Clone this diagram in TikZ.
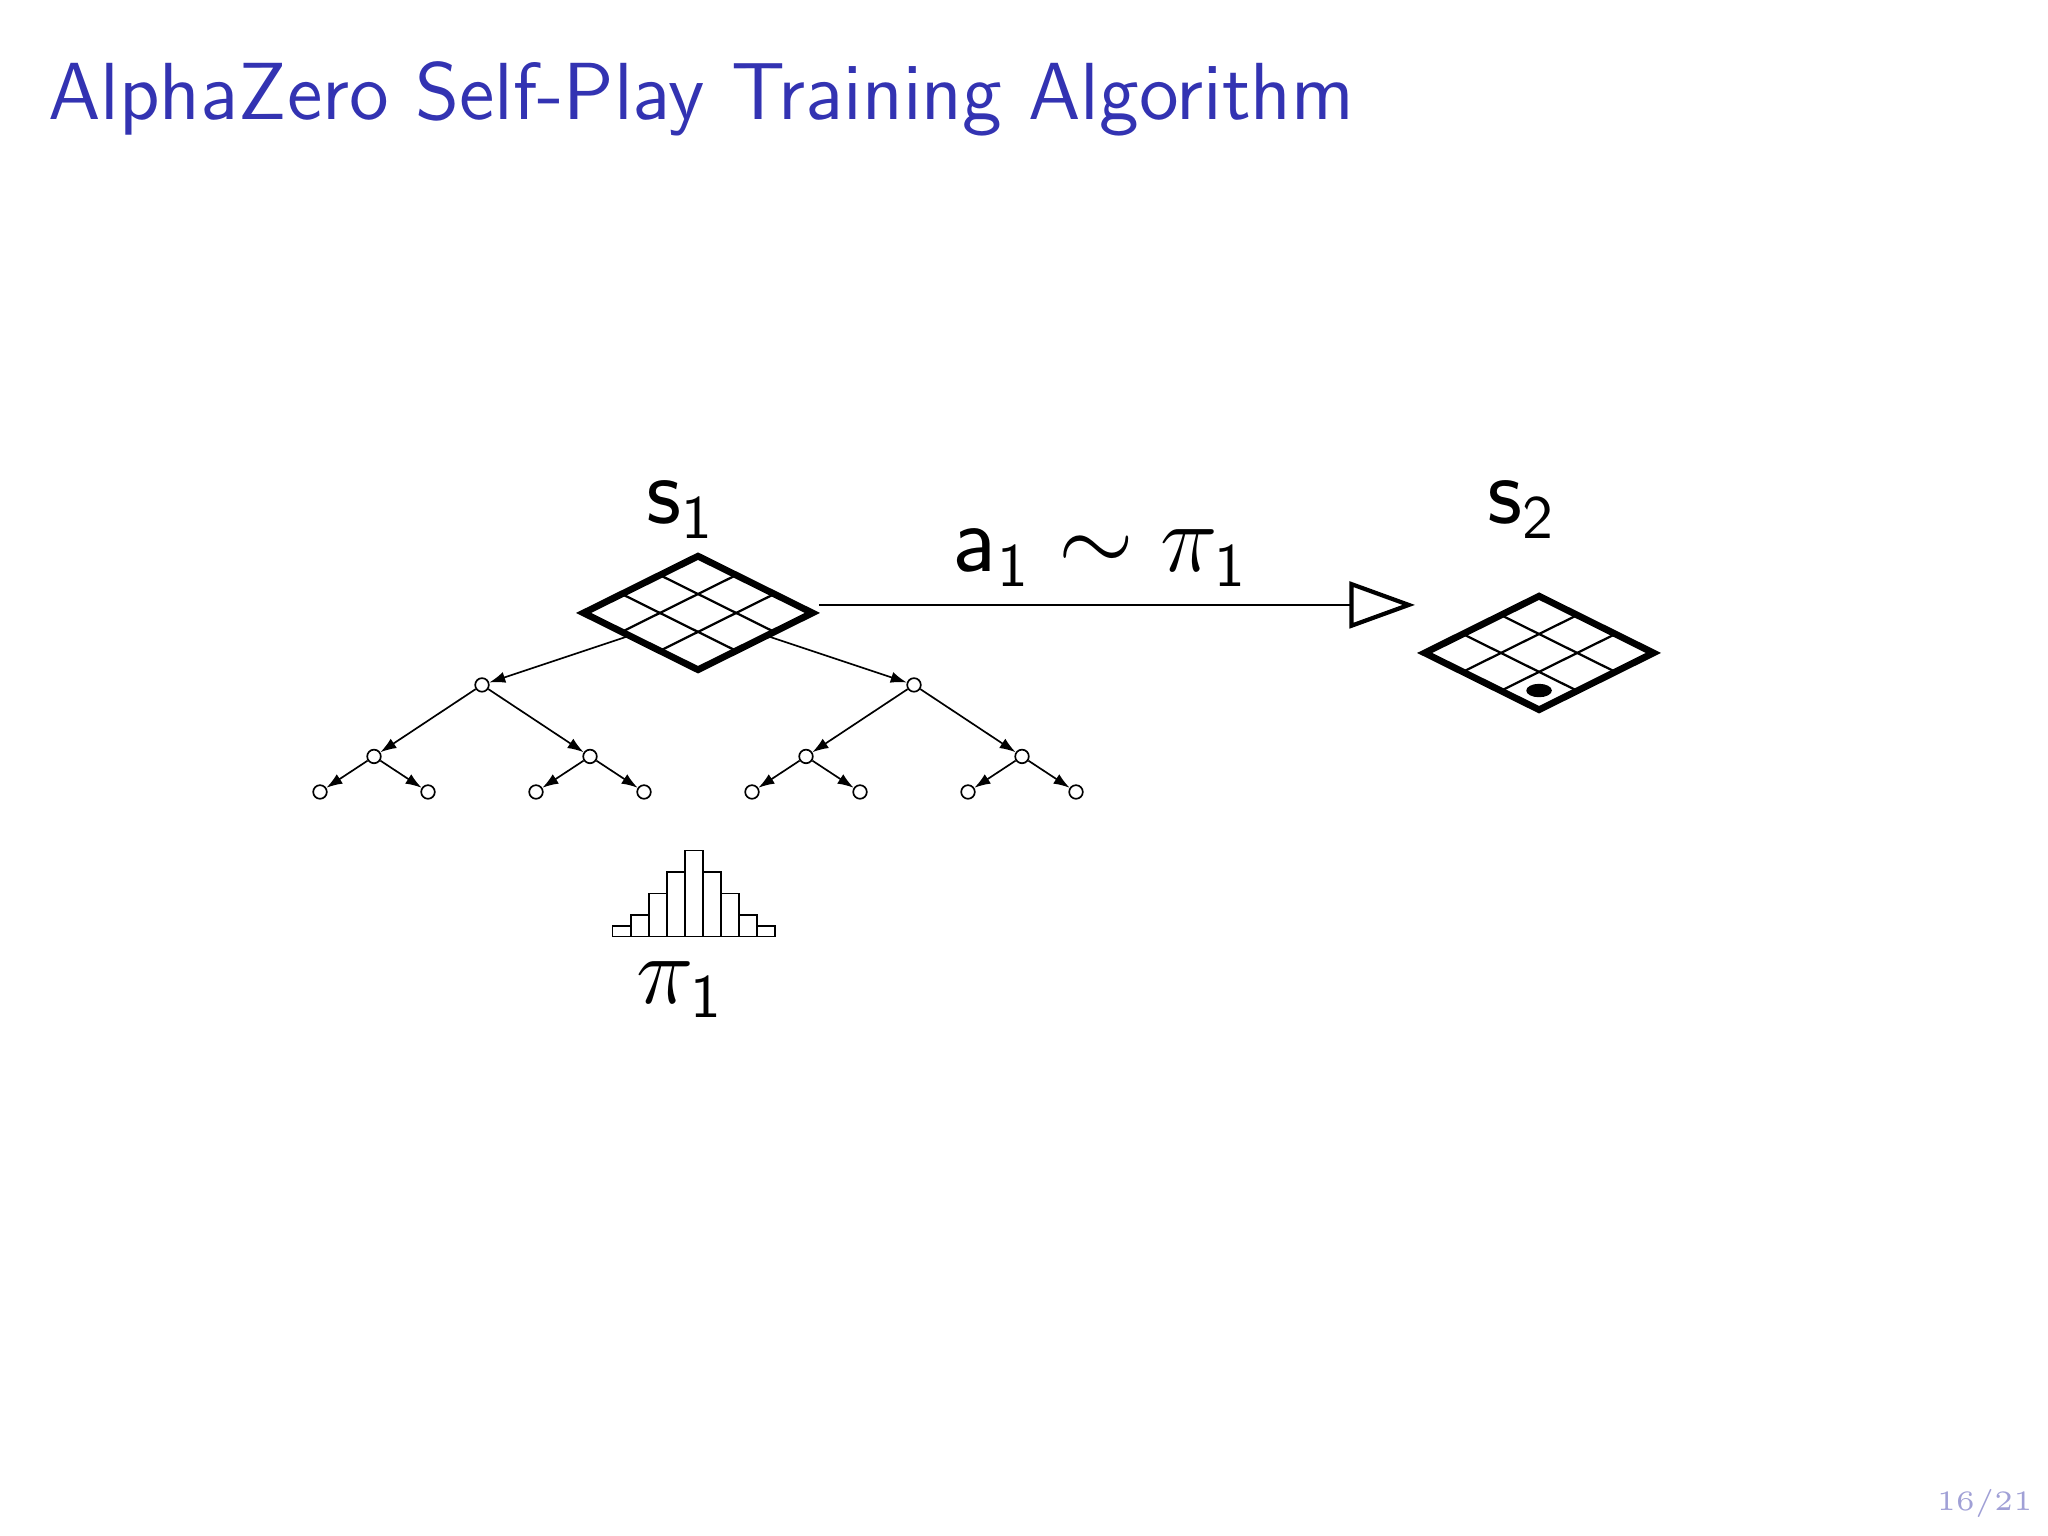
\documentclass[tikz,border=0pt]{standalone}
\usepackage{amsmath}
\usetikzlibrary{arrows.meta, shapes.geometric}

\definecolor{titleblue}{RGB}{51,51,178}
\definecolor{pagegray}{RGB}{160,160,214}

\tikzset{
  board/.style={diamond, minimum width=14.3mm, minimum height=7.1mm, inner sep=0pt, outer sep=0pt},
  treenode/.style={circle, draw, line width=0.3pt, inner sep=0pt, minimum size=0.85mm, fill=white},
  branch/.style={line width=0.3pt, -{Latex[length=1mm, width=0.7mm]}},
  biglabel/.style={font=\fontsize{16}{19}\selectfont, inner sep=0pt, anchor=base}
}

\begin{document}
\begin{tikzpicture}[x=1mm, y=1mm]
    \useasboundingbox[fill=white] (0,0) rectangle (128,96);

    % Title and page number
    \node[anchor=base west, inner sep=0pt, text=titleblue, font=\sffamily\fontsize{14.4}{17}\selectfont] (title) at (2.95,88.5) {AlphaZero Self-Play Training Algorithm};
    \node[anchor=base east, inner sep=0pt, text=pagegray, font=\fontsize{5}{6}\selectfont] (pagenum) at (127.1,1.58) {16/21};

    % Draw the boards
    \node[board] (s1) at (43.625,57.69) {};
    \node[board] (s2) at (96.19,55.19) {};
    \foreach \b in {s1,s2} {
        \begin{scope}[shift={(\b.south)}, x={(2.383mm,1.183mm)}, y={(-2.383mm,1.183mm)}]
            \draw[line width=0.4pt] (1,0) -- (1,3);
            \draw[line width=0.4pt] (2,0) -- (2,3);
            \draw[line width=0.4pt] (0,1) -- (3,1);
            \draw[line width=0.4pt] (0,2) -- (3,2);
            \draw[very thick] (0,0) -- (3,0) -- (3,3) -- (0,3) -- cycle;
        \end{scope}
    }
    \fill ([yshift=1.2mm]s2.south) ellipse [x radius=0.8, y radius=0.42];

    \node[biglabel] (s1lbl) at (42.53,63.25) {$\mathsf{s}_{\mathsf{1}}$};
    \node[biglabel] (s2lbl) at (95.09,63.25) {$\mathsf{s}_{\mathsf{2}}$};

    % Draw the move
    \coordinate (mvstart) at ([shift={(0.4mm,0.5mm)}]s1.east);
    \coordinate (mvend) at ([xshift=-0.6mm]s2.west |- mvstart);
    \draw[line width=0.5pt, -{Triangle[open, length=4.1mm, width=2.9mm, line width=0.75pt]}] (mvstart) -- (mvend);
    \node[biglabel] (move) at (68.81,60.25) {$\mathsf{a}_{\mathsf{1}} \sim \pi_{\mathsf{1}}$};

    % Draw the search tree
    \node[treenode] (n1) at (30.125,53.19) {};
    \node[treenode] (n2) at (57.125,53.19) {};
    \node[treenode] (n11) at (23.375,48.72) {};
    \node[treenode] (n12) at (36.875,48.72) {};
    \node[treenode] (n21) at (50.375,48.72) {};
    \node[treenode] (n22) at (63.875,48.72) {};
    \node[treenode] (n111) at (20,46.5) {};
    \node[treenode] (n112) at (26.75,46.5) {};
    \node[treenode] (n121) at (33.5,46.5) {};
    \node[treenode] (n122) at (40.25,46.5) {};
    \node[treenode] (n211) at (47,46.5) {};
    \node[treenode] (n212) at (53.75,46.5) {};
    \node[treenode] (n221) at (60.5,46.5) {};
    \node[treenode] (n222) at (67.25,46.5) {};
    \foreach \p/\c in {s1/n1, s1/n2, n1/n11, n1/n12, n2/n21, n2/n22,
                       n11/n111, n11/n112, n12/n121, n12/n122,
                       n21/n211, n21/n212, n22/n221, n22/n222}
        \draw[branch] (\p) -- (\c);

    % Draw the search probabilities
    \foreach \h [count=\i from 0] in {1,2,4,6,8,6,4,2,1}
        \draw[line width=0.3pt] (38.29+1.128*\i,37.46) rectangle ++(1.128,0.672*\h);
    \node[biglabel] (pi1) at (42.5,33.31) {$\pi_{\mathsf{1}}$};
\end{tikzpicture}
\end{document}
